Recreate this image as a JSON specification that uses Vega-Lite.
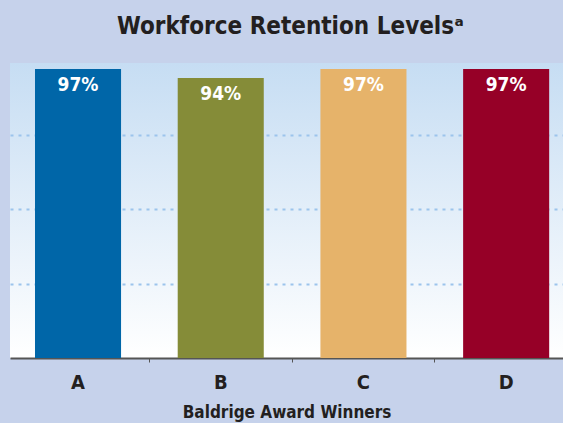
{
  "$schema": "https://vega.github.io/schema/vega-lite/v6.json",
  "autosize": "none",
  "width": 553,
  "height": 295,
  "padding": {"left": 10, "top": 63, "right": 0, "bottom": 65},
  "background": "#c6d2eb",
  "title": {
    "text": "Workforce Retention Levelsᵃ",
    "font": "DejaVu Sans Condensed, sans-serif",
    "fontSize": 24,
    "fontWeight": "bold",
    "color": "#231f20",
    "anchor": "middle",
    "dx": 4,
    "offset": 24
  },
  "config": {
    "view": {
      "stroke": null,
      "fill": {
        "gradient": "linear",
        "x1": 0, "y1": 0, "x2": 0, "y2": 1,
        "stops": [
          {"offset": 0, "color": "#c6ddf3"},
          {"offset": 1, "color": "#ffffff"}
        ]
      }
    },
    "font": "DejaVu Sans Condensed, sans-serif"
  },
  "data": {
    "values": [
      {"winner": "A", "retention": 97, "label": "97%"},
      {"winner": "B", "retention": 94, "label": "94%"},
      {"winner": "C", "retention": 97, "label": "97%"},
      {"winner": "D", "retention": 97, "label": "97%"}
    ]
  },
  "encoding": {
    "x": {
      "field": "winner",
      "type": "nominal",
      "scale": {"paddingInner": 0.397, "paddingOuter": 0.136, "align": 0.644},
      "axis": {
        "title": "Baldrige Award Winners",
        "titleFontSize": 17,
        "titleFontWeight": "bold",
        "titleColor": "#231f20",
        "titlePadding": 12,
        "labelAngle": 0,
        "labelFontSize": 20,
        "labelFontWeight": "bold",
        "labelColor": "#231f20",
        "labelPadding": 10,
        "bandPosition": 1.329,
        "domainColor": "#555555",
        "domainWidth": 2,
        "tickColor": "#555555",
        "tickSize": 4,
        "grid": false
      }
    },
    "y": {
      "field": "retention",
      "type": "quantitative",
      "scale": {"domain": [0, 99], "nice": false},
      "axis": {
        "title": null,
        "labels": false,
        "ticks": false,
        "domain": false,
        "values": [25, 50, 75],
        "grid": true,
        "gridColor": "#9cc4ec",
        "gridDash": [3, 5],
        "gridWidth": 2
      }
    }
  },
  "layer": [
    {
      "mark": {"type": "bar"},
      "encoding": {
        "color": {
          "field": "winner",
          "type": "nominal",
          "scale": {"domain": ["A", "B", "C", "D"], "range": ["#0066a8", "#858c38", "#e6b36a", "#960027"]},
          "legend": null
        }
      }
    },
    {
      "mark": {"type": "text", "baseline": "top", "dy": 7, "fontSize": 19, "fontWeight": "bold", "color": "#ffffff"},
      "encoding": {
        "text": {"field": "label"}
      }
    }
  ]
}
